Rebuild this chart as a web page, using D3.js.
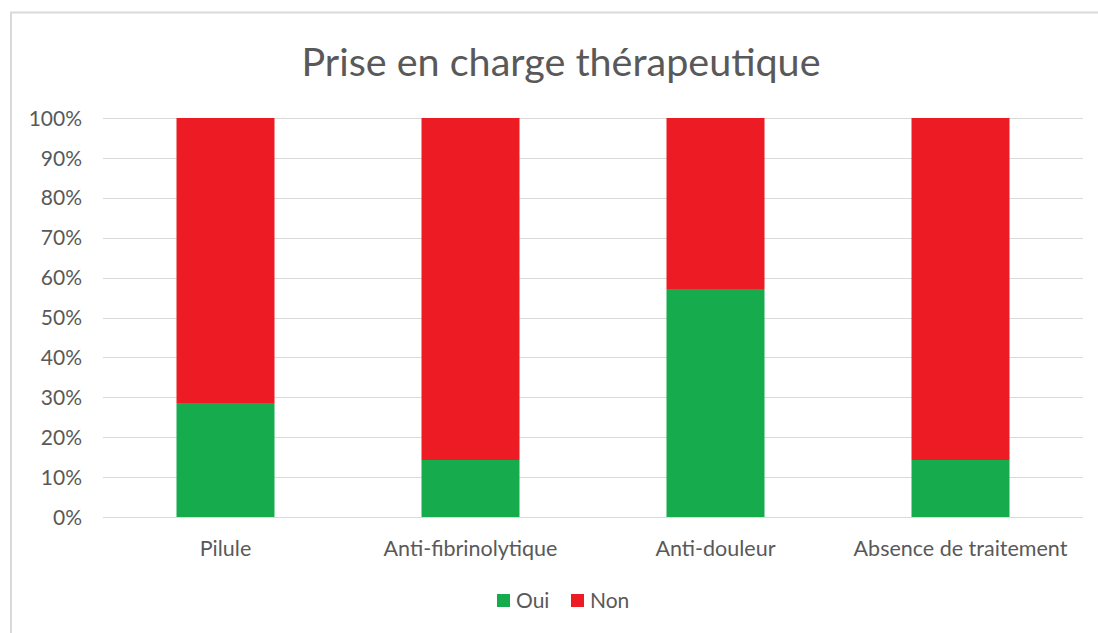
<!DOCTYPE html>
<html>
<head>
<meta charset="utf-8">
<script src="https://cdn.jsdelivr.net/npm/d3@7"></script>
<style>
  html, body { margin: 0; padding: 0; background: #fff; }
  svg { display: block; }
  text { font-family: Lato, "Open Sans", sans-serif; fill: #595959; }
</style>
</head>
<body>
<svg id="chart" width="1098" height="633"></svg>
<script>
const title = "Prise en charge thérapeutique";
const categories = ["Pilule", "Anti-fibrinolytique", "Anti-douleur", "Absence de traitement"];
const seriesNames = ["Oui", "Non"];
const seriesColors = ["#16AB4C", "#ED1C24"];
const oui = [2/7, 1/7, 4/7, 1/7];
const non = [5/7, 6/7, 3/7, 6/7];
const yTicks = [0, 0.1, 0.2, 0.3, 0.4, 0.5, 0.6, 0.7, 0.8, 0.9, 1.0];

const svg = d3.select("#chart");
const W = 1098, H = 633;
const margin = { left: 103, right: 15, top: 118, bottom: 116 };

// chart border (top + left visible)
svg.append("path")
  .attr("d", `M11,${H} L11,12.5 L${W},12.5`)
  .attr("fill", "none").attr("stroke", "#d9d9d9").attr("stroke-width", 2);

const x = d3.scaleBand().domain(categories)
  .range([margin.left, W - margin.right]).paddingInner(0.6).paddingOuter(0.3);
const y = d3.scaleLinear().domain([0, 1]).range([H - margin.bottom, margin.top]);

// gridlines
svg.append("g").selectAll("line").data(yTicks).join("line")
  .attr("x1", margin.left).attr("x2", W - margin.right)
  .attr("y1", d => Math.round(y(d)) + 0.5).attr("y2", d => Math.round(y(d)) + 0.5)
  .attr("stroke", "#d9d9d9").attr("stroke-width", 1);

// y axis labels
const yAxis = d3.axisLeft(y).tickValues(yTicks).tickFormat(d3.format(".0%")).tickSize(0).tickPadding(21);
const yg = svg.append("g").attr("transform", `translate(${margin.left},0)`).call(yAxis);
yg.select(".domain").remove();
yg.selectAll("text").style("font-size", "21px").attr("fill", "#595959").attr("dy", "0.34em");

// stacked data
const rows = categories.map((c, i) => ({ cat: c, Oui: oui[i], Non: non[i] }));
const stack = d3.stack().keys(seriesNames)(rows);
svg.append("g").selectAll("g").data(stack).join("g")
  .attr("fill", (d, i) => seriesColors[i])
  .selectAll("rect").data(d => d).join("rect")
  .attr("x", d => x(d.data.cat))
  .attr("width", x.bandwidth())
  .attr("y", d => y(d[1]))
  .attr("height", d => y(d[0]) - y(d[1]));

// x axis labels
const xAxis = d3.axisBottom(x).tickSize(0).tickPadding(24);
const xg = svg.append("g").attr("transform", `translate(0,${H - margin.bottom})`).call(xAxis);
xg.select(".domain").remove();
xg.selectAll("text").style("font-size", "21.5px").attr("fill", "#595959");

// title
svg.append("text").attr("x", 561).attr("y", 76).attr("text-anchor", "middle")
  .style("font-size", "39.5px").text(title);

// legend
const legend = svg.append("g");
const legX = [497, 571];
seriesNames.forEach((s, i) => {
  legend.append("rect").attr("x", legX[i]).attr("y", 594).attr("width", 13).attr("height", 13)
    .attr("fill", seriesColors[i]);
  legend.append("text").attr("x", legX[i] + 19).attr("y", 608)
    .style("font-size", "21px").text(s);
});
</script>
</body>
</html>
